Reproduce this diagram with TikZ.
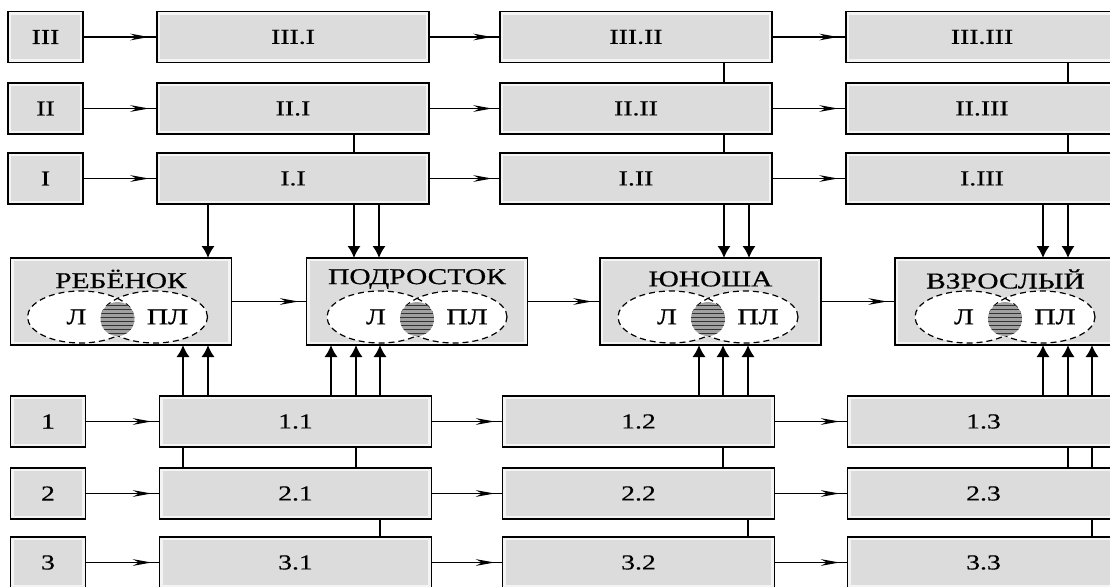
\documentclass[tikz,border=0pt]{standalone}
\usepackage{fontspec}
\setmainfont{Liberation Serif}[FakeStretch=1.3,FakeBold=0.5]
\usetikzlibrary{arrows.meta,decorations.markings,patterns,shapes.geometric}
\definecolor{boxgray}{HTML}{DCDCDC}
\definecolor{boxedge}{HTML}{F4F4F4}
\definecolor{hatchgray}{HTML}{A0A0A0}
\newcommand\personunit[4]{%
  \node[pbox] (#1) at (#2,301.5) {};
  \node[ptitle] (#1t) at (#2,279) {#4};
  \node[ellfill] (#1l) at (#3-37,317) {};
  \node[ellfill] (#1r) at (#3+37,317) {};
  \node[elldraw] (#1ld) at (#1l) {};
  \node[elldraw] (#1rd) at (#1r) {};
  \fill[hatchgray] (#3,319) circle[radius=17];
  \fill[pattern=horizontal lines, pattern color=gray!40!black] (#3,319) circle[radius=17];
  \node[ptxt] (#1a) at (#3-41,317) {Л};
  \node[ptxt] (#1b) at (#3+50,317) {ПЛ};
}
\begin{document}
\begin{tikzpicture}[x=0.75pt,y=-0.75pt,
  box/.style={draw, fill=boxedge, line width=1.3pt, inner sep=0pt, outer sep=0pt,
    font=\fontsize{16}{19}\selectfont,
    path picture={\fill[boxgray] ([shift={(2.5pt,2.5pt)}]path picture bounding box.south west) rectangle ([shift={(-2.5pt,-2.5pt)}]path picture bounding box.north east);}},
  lblbox/.style={box, minimum width=75*0.75pt, minimum height=51*0.75pt},
  colbox/.style={box, minimum width=272*0.75pt, minimum height=51*0.75pt},
  pbox/.style={box, minimum width=221*0.75pt, minimum height=87*0.75pt},
  ptitle/.style={inner sep=0pt, font=\fontsize{17}{20}\selectfont},
  ptxt/.style={inner sep=0pt, font=\fontsize{17}{20}\selectfont},
  ellfill/.style={ellipse, fill=white, inner sep=0pt, minimum width=106*0.75pt, minimum height=52*0.75pt},
  elldraw/.style={ellipse, draw, line width=0.9pt, dash pattern=on 4.5pt off 3pt, inner sep=0pt, minimum width=106*0.75pt, minimum height=52*0.75pt},
  harrow/.style={line width=1pt, postaction={decorate},
    decoration={markings, mark=at position -6pt with {\arrow{Stealth[length=14pt,width=5pt]}}}},
  varrow/.style={line width=1.5pt, -{Latex[length=9pt,width=10pt]}},
  vline/.style={line width=1.5pt}
]
\useasboundingbox (0,0) rectangle (1110,586);
\clip (0,0) rectangle (1110,586);

% top rows
\node[lblbox] (L3) at (45.5,37) {III};
\node[lblbox] (L2) at (45.5,108.5) {II};
\node[lblbox] (L1) at (45.5,178.5) {I};
\node[colbox] (T31) at (293,37) {III.I};
\node[colbox] (T32) at (636,37) {III.II};
\node[colbox] (T33) at (982,37) {III.III};
\node[colbox] (T21) at (293,108.5) {II.I};
\node[colbox] (T22) at (636,108.5) {II.II};
\node[colbox] (T23) at (982,108.5) {II.III};
\node[colbox] (T11) at (293,178.5) {I.I};
\node[colbox] (T12) at (636,178.5) {I.II};
\node[colbox] (T13) at (982,178.5) {I.III};

% bottom rows
\node[lblbox] (N1) at (48,421.5) {1};
\node[lblbox] (N2) at (48,493.5) {2};
\node[lblbox] (N3) at (48,562.5) {3};
\node[colbox] (B11) at (295.5,421.5) {1.1};
\node[colbox] (B12) at (638.5,421.5) {1.2};
\node[colbox] (B13) at (983.5,421.5) {1.3};
\node[colbox] (B21) at (295.5,493.5) {2.1};
\node[colbox] (B22) at (638.5,493.5) {2.2};
\node[colbox] (B23) at (983.5,493.5) {2.3};
\node[colbox] (B31) at (295.5,562.5) {3.1};
\node[colbox] (B32) at (638.5,562.5) {3.2};
\node[colbox] (B33) at (983.5,562.5) {3.3};

% persons
\personunit{P1}{121}{117.5}{РЕБЁНОК}
\personunit{P2}{417}{417}{ПОДРОСТОК}
\personunit{P3}{710.5}{708}{ЮНОША}
\personunit{P4}{1005.5}{1005}{ВЗРОСЛЫЙ}

% horizontal arrows
\draw[harrow] (L3.east) -- (T31.west);
\draw[harrow] (T31.east) -- (T32.west);
\draw[harrow] (T32.east) -- (T33.west);
\draw[harrow] (L2.east) -- (T21.west);
\draw[harrow] (T21.east) -- (T22.west);
\draw[harrow] (T22.east) -- (T23.west);
\draw[harrow] (L1.east) -- (T11.west);
\draw[harrow] (T11.east) -- (T12.west);
\draw[harrow] (T12.east) -- (T13.west);
\draw[harrow] (P1.east) -- (P2.west);
\draw[harrow] (P2.east) -- (P3.west);
\draw[harrow] (P3.east) -- (P4.west);
\draw[harrow] (N1.east) -- (B11.west);
\draw[harrow] (B11.east) -- (B12.west);
\draw[harrow] (B12.east) -- (B13.west);
\draw[harrow] (N2.east) -- (B21.west);
\draw[harrow] (B21.east) -- (B22.west);
\draw[harrow] (B22.east) -- (B23.west);
\draw[harrow] (N3.east) -- (B31.west);
\draw[harrow] (B31.east) -- (B32.west);
\draw[harrow] (B32.east) -- (B33.west);

% top vertical links
\draw[vline] (T32.south -| 724,0) -- (T22.north -| 724,0);
\draw[vline] (T22.south -| 724,0) -- (T12.north -| 724,0);
\draw[vline] (T33.south -| 1068,0) -- (T23.north -| 1068,0);
\draw[vline] (T23.south -| 1068,0) -- (T13.north -| 1068,0);
\draw[vline] (T21.south -| 354,0) -- (T11.north -| 354,0);

% down arrows
\draw[varrow] (T11.south -| 208,0) -- (P1.north -| 208,0);
\draw[varrow] (T11.south -| 354,0) -- (P2.north -| 354,0);
\draw[varrow] (T11.south -| 379,0) -- (P2.north -| 379,0);
\draw[varrow] (T12.south -| 724,0) -- (P3.north -| 724,0);
\draw[varrow] (T12.south -| 749,0) -- (P3.north -| 749,0);
\draw[varrow] (T13.south -| 1043,0) -- (P4.north -| 1043,0);
\draw[varrow] (T13.south -| 1068,0) -- (P4.north -| 1068,0);

% up arrows
\draw[varrow] (B11.north -| 183,0) -- (P1.south -| 183,0);
\draw[varrow] (B11.north -| 208,0) -- (P1.south -| 208,0);
\draw[varrow] (B11.north -| 331,0) -- (P2.south -| 331,0);
\draw[varrow] (B11.north -| 356,0) -- (P2.south -| 356,0);
\draw[varrow] (B11.north -| 380,0) -- (P2.south -| 380,0);
\draw[varrow] (B12.north -| 699,0) -- (P3.south -| 699,0);
\draw[varrow] (B12.north -| 723,0) -- (P3.south -| 723,0);
\draw[varrow] (B12.north -| 748,0) -- (P3.south -| 748,0);
\draw[varrow] (B13.north -| 1043,0) -- (P4.south -| 1043,0);
\draw[varrow] (B13.north -| 1068,0) -- (P4.south -| 1068,0);
\draw[varrow] (B13.north -| 1092,0) -- (P4.south -| 1092,0);

% bottom vertical links
\draw[vline] (B11.south -| 183,0) -- (B21.north -| 183,0);
\draw[vline] (B11.south -| 356,0) -- (B21.north -| 356,0);
\draw[vline] (B21.south -| 380,0) -- (B31.north -| 380,0);
\draw[vline] (B12.south -| 723,0) -- (B22.north -| 723,0);
\draw[vline] (B22.south -| 748,0) -- (B32.north -| 748,0);
\draw[vline] (B13.south -| 1068,0) -- (B23.north -| 1068,0);
\draw[vline] (B13.south -| 1092,0) -- (B23.north -| 1092,0);
\draw[vline] (B23.south -| 1092,0) -- (B33.north -| 1092,0);
\end{tikzpicture}
\end{document}
